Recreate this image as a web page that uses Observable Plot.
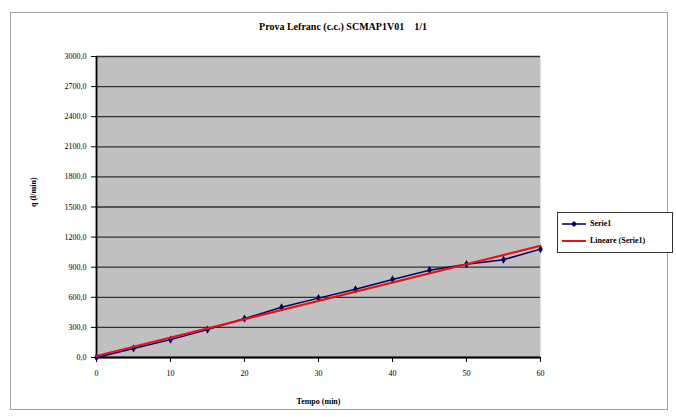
<!DOCTYPE html>
<html><head><meta charset="utf-8">
<script src="https://cdn.jsdelivr.net/npm/d3@7"></script>
<script src="https://cdn.jsdelivr.net/npm/@observablehq/plot@0.6"></script>
<style>
body{margin:0;background:#fff;}
#wrap{position:relative;width:676px;height:417px;font-family:"Liberation Serif",serif;}
#border{position:absolute;left:10px;top:12px;width:658px;height:398px;border:1px solid #a0a0a0;box-sizing:border-box;}
#title{position:absolute;left:0;width:676px;top:21px;text-align:center;font-weight:bold;font-size:10px;padding-left:10px;box-sizing:border-box;white-space:pre;}
#legend{position:absolute;left:557px;top:212px;width:116px;height:41px;border:1px solid #333;box-sizing:border-box;background:#fff;font-size:8px;font-weight:bold;}
.item{position:absolute;left:4px;display:flex;align-items:center;}
.item svg{margin-right:4px;}
#plot{position:absolute;left:0;top:0;}
</style></head><body>
<div id="wrap">
<div id="border"></div>
<div id="plot"></div>
<div id="title">Prova Lefranc (c.c.) SCMAP1V01    1/1</div>
<div id="legend">
  <div class="item" style="top:6px"><svg width="24" height="8"><line x1="0" y1="4" x2="24" y2="4" stroke="#000060" stroke-width="1.5"/><path d="M12,1L15,4L12,7L9,4Z" fill="#000060"/></svg><span id="l1"></span></div>
  <div class="item" style="top:23px"><svg width="24" height="8"><line x1="0" y1="4" x2="24" y2="4" stroke="#e8101a" stroke-width="2"/></svg><span id="l2"></span></div>
</div>
</div>
<script>
const tempo = [0, 5, 10, 15, 20, 25, 30, 35, 40, 45, 50, 55, 60];
const portata = [0, 90, 178, 278, 388, 500, 592, 680, 778, 870, 930, 975, 1080];
const xTicks = [0, 10, 20, 30, 40, 50, 60];
const yTicks = [0, 300, 600, 900, 1200, 1500, 1800, 2100, 2400, 2700, 3000];
const seriesName = "Serie1";
const trendName = "Lineare (Serie1)";
const xLabel = "Tempo (min)";
const yLabel = "q (l/min)";

document.getElementById("l1").textContent = seriesName;
document.getElementById("l2").textContent = trendName;

const data = tempo.map((t, i) => ({t, q: portata[i]}));
const fmt = d => d.toFixed(1).replace(".", ",");

const chart = Plot.plot({
  width: 676, height: 417,
  marginLeft: 96, marginRight: 136, marginTop: 56, marginBottom: 60,
  style: {fontFamily: "Liberation Serif", fontSize: "8px", background: "transparent", color: "#000"},
  x: {domain: [0, 60], ticks: xTicks, tickFormat: d => String(d), label: null, tickSize: 5, tickPadding: 8},
  y: {domain: [0, 3000], ticks: yTicks, tickFormat: fmt, label: null, tickSize: 5, tickPadding: 5},
  marks: [
    Plot.frame({fill: "#c0c0c0", stroke: null}),
    Plot.gridY(yTicks, {stroke: "#303030", strokeOpacity: 1, strokeWidth: 1.3}),
    Plot.ruleX([0], {stroke: "#000", strokeWidth: 1.8}),
    Plot.ruleY([0], {stroke: "#000", strokeWidth: 1.8}),
    Plot.axisX({ticks: xTicks, tickFormat: d => String(d), tickSize: 5, tickPadding: 8, label: null}),
    Plot.axisY({ticks: yTicks, tickFormat: fmt, tickSize: 5, tickPadding: 5, label: null}),
    Plot.line(data, {x: "t", y: "q", stroke: "#000060", strokeWidth: 1.5}),
    Plot.dot(data, {x: "t", y: "q", symbol: "diamond", r: 2.5, fill: "#000060", stroke: null}),
    Plot.linearRegressionY(data, {x: "t", y: "q", stroke: "#e8101a", strokeWidth: 2, ci: 0}),
    Plot.text([xLabel], {frameAnchor: "bottom", dy: 46, fontWeight: "bold", fontSize: 8}),
    Plot.text([yLabel], {frameAnchor: "left", dx: -63, rotate: -90, fontWeight: "bold", fontSize: 8})
  ]
});
document.getElementById("plot").appendChild(chart);
</script>
</body></html>
